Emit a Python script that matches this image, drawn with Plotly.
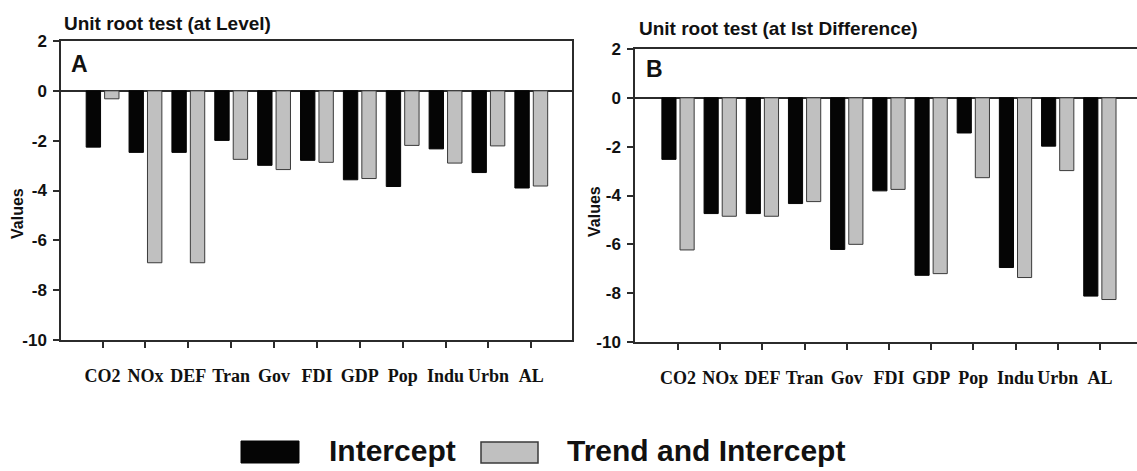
import plotly.graph_objects as go

# ---------------- data ----------------
categories = ["CO2", "NOx", "DEF", "Tran", "Gov", "FDI", "GDP", "Pop", "Indu", "Urbn", "AL"]
level_intercept = [-2.26, -2.47, -2.47, -1.99, -2.99, -2.79, -3.57, -3.84, -2.33, -3.28, -3.90]
level_trend = [-0.32, -6.90, -6.90, -2.75, -3.16, -2.87, -3.52, -2.19, -2.90, -2.21, -3.82]
diff_intercept = [-2.52, -4.74, -4.74, -4.33, -6.21, -3.81, -7.27, -1.44, -6.95, -1.98, -8.12]
diff_trend = [-6.23, -4.85, -4.85, -4.25, -6.00, -3.75, -7.20, -3.27, -7.36, -2.98, -8.26]
y_ticks = [2, 0, -2, -4, -6, -8, -10]
y_tick_text = ["2", "0", "-2", "-4", "-6", "-8", "-10"]
series_names = ["Intercept", "Trend and Intercept"]
panel_titles = ["Unit root test (at Level)", "Unit root test (at Ist Difference)"]
panel_letters = ["A", "B"]
y_title = "Values"

# ---------------- layout helpers ----------------
W, H = 1137, 471


def px(x):
    return x / W


def py(y):
    return 1 - y / H


LINE = "#2b2b2b"
TXT = "#111111"
BLACK = "#050505"
GRAY = "#c0c0c0"
GRAY_EDGE = "#3a3a3a"

fig = go.Figure()

fig.add_trace(go.Bar(x=categories, y=level_intercept, name=series_names[0],
                     marker=dict(color=BLACK, line=dict(color=BLACK, width=1)),
                     xaxis="x", yaxis="y", showlegend=False))
fig.add_trace(go.Bar(x=categories, y=level_trend, name=series_names[1],
                     marker=dict(color=GRAY, line=dict(color=GRAY_EDGE, width=1)),
                     xaxis="x", yaxis="y", showlegend=False))
fig.add_trace(go.Bar(x=categories, y=diff_intercept, name=series_names[0],
                     marker=dict(color=BLACK, line=dict(color=BLACK, width=1)),
                     xaxis="x2", yaxis="y2", showlegend=False))
fig.add_trace(go.Bar(x=categories, y=diff_trend, name=series_names[1],
                     marker=dict(color=GRAY, line=dict(color=GRAY_EDGE, width=1)),
                     xaxis="x2", yaxis="y2", showlegend=False))


def xaxis_cfg(domain, rng, anchor):
    return dict(domain=domain, anchor=anchor, type="category", range=rng,
                showline=True, linecolor=LINE, linewidth=1.5, mirror=True,
                ticks="outside", ticklen=6, tickwidth=1.5, tickcolor=LINE,
                tickangle=0,
                tickfont=dict(family="Liberation Serif", size=18, color=TXT, weight="bold"),
                ticklabelstandoff=13, showgrid=False, zeroline=False,
                automargin=False, fixedrange=True)


def yaxis_cfg(domain, anchor, mirror):
    return dict(domain=domain, anchor=anchor, range=[-10, 2],
                tickmode="array", tickvals=y_ticks, ticktext=y_tick_text,
                showline=True, linecolor=LINE, linewidth=1.5, mirror=mirror,
                ticks="outside", ticklen=6, tickwidth=1.5, tickcolor=LINE,
                tickfont=dict(family="Liberation Sans", size=17, color=TXT, weight="bold"),
                ticklabelstandoff=3, showgrid=False,
                zeroline=True, zerolinecolor=LINE, zerolinewidth=1.5,
                automargin=False, fixedrange=True)


fig.update_layout(
    width=W, height=H,
    margin=dict(l=0, r=0, t=0, b=0),
    paper_bgcolor="white", plot_bgcolor="white",
    barmode="group", bargap=0.14, bargroupgap=0.22,
    showlegend=False,
    xaxis=xaxis_cfg([px(61), px(572)], [-0.97, 10.95], "y"),
    yaxis=yaxis_cfg([py(340), py(41)], "x", True),
    xaxis2=xaxis_cfg([px(635), 1.0], [-1.02, 10.88], "y2"),
    yaxis2=yaxis_cfg([py(342), py(49)], "x2", False),
)

ann = []
# panel titles
ann.append(dict(text=panel_titles[0], x=px(62), y=py(24), xref="paper", yref="paper",
                xanchor="left", yanchor="middle", showarrow=False,
                font=dict(family="Liberation Sans", size=19, color=TXT, weight="bold")))
ann.append(dict(text=panel_titles[1], x=px(637), y=py(29), xref="paper", yref="paper",
                xanchor="left", yanchor="middle", showarrow=False,
                font=dict(family="Liberation Sans", size=19, color=TXT, weight="bold")))
# panel letters
ann.append(dict(text=panel_letters[0], x=px(69), y=py(64), xref="paper", yref="paper",
                xanchor="left", yanchor="middle", showarrow=False,
                font=dict(family="Liberation Sans", size=23, color=TXT, weight="bold")))
ann.append(dict(text=panel_letters[1], x=px(644), y=py(69), xref="paper", yref="paper",
                xanchor="left", yanchor="middle", showarrow=False,
                font=dict(family="Liberation Sans", size=23, color=TXT, weight="bold")))
# y titles
for xx, yy in [(17, 214), (594, 212)]:
    ann.append(dict(text=y_title, x=px(xx), y=py(yy), xref="paper", yref="paper",
                    xanchor="center", yanchor="middle", textangle=-90, showarrow=False,
                    font=dict(family="Liberation Sans", size=16, color=TXT, weight="bold")))
# legend text
ann.append(dict(text=series_names[0], x=px(327), y=py(450), xref="paper", yref="paper",
                xanchor="left", yanchor="middle", showarrow=False,
                font=dict(family="Liberation Sans", size=30, color=TXT, weight="bold")))
ann.append(dict(text=series_names[1], x=px(565), y=py(450), xref="paper", yref="paper",
                xanchor="left", yanchor="middle", showarrow=False,
                font=dict(family="Liberation Sans", size=30, color=TXT, weight="bold")))

shapes = [
    dict(type="rect", xref="paper", yref="paper", x0=px(241), x1=px(299), y0=py(463), y1=py(441),
         fillcolor=BLACK, line=dict(color=BLACK, width=1)),
    dict(type="rect", xref="paper", yref="paper", x0=px(481), x1=px(538), y0=py(463), y1=py(442),
         fillcolor=GRAY, line=dict(color=GRAY_EDGE, width=1.5)),
]

fig.update_layout(annotations=ann, shapes=shapes)

fig.write_html("out.html")
